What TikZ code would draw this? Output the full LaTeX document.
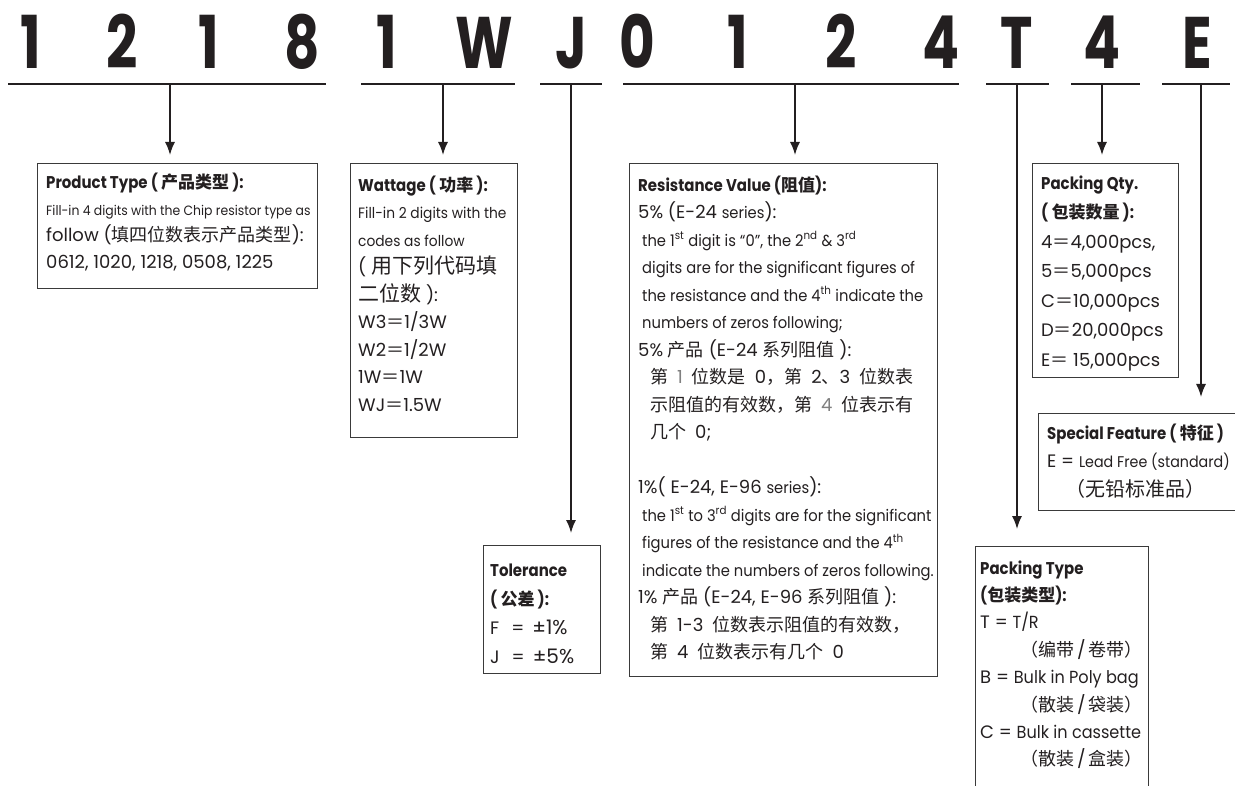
\documentclass[tikz,border=0pt]{standalone}
\usepackage{fontspec}
\setmainfont{Poppins}[Numbers=Monospaced]
\newfontfamily\cjk{Noto Sans CJK SC}
\newfontfamily\condfont{Poppins}[FakeStretch=0.92]
\newfontfamily\ttlfont{Poppins}[FakeStretch=0.88]
\newfontfamily\headfont{Poppins}[FakeStretch=0.75]
\usetikzlibrary{arrows.meta}

\definecolor{ink}{HTML}{231F20}
\definecolor{boxgray}{HTML}{3A3A3A}

\newcommand{\zh}[2][18]{{\cjk\fontsize{#1}{#1}\selectfont #2}}
\newcommand{\sm}[2][16]{{\condfont\fontsize{#1}{#1}\selectfont #2}}
\newcommand{\ttl}[1]{{\ttlfont\bfseries\fontsize{17}{18}\selectfont #1}}

\tikzset{
  digit/.style={font=\headfont\bfseries\fontsize{73}{73}\selectfont, anchor=base, inner sep=0pt, text=ink},
  uline/.style={line width=2.2pt, draw=ink},
  arr/.style={line width=1.5pt, draw=ink, -{Latex[length=13pt,width=10pt]}},
  box/.style={draw=boxgray, line width=1.2pt, anchor=north west, inner sep=0pt},
  txt/.style={anchor=north west, inner sep=0pt, align=left, text=ink, font=\fontsize{18}{#1}\selectfont},
}

\begin{document}
\begin{tikzpicture}[x=1pt, y=-1pt]
        \useasboundingbox (0,0) rectangle (1235,786);
        \clip (0,0) rectangle (1235,786);

        % part number
        \foreach \c/\x [count=\i] in {1/31, 2/122, 1/209, 8/302, 1/387, W/484, J/571, 0/637, 1/738, 2/841, 4/941, T/1017, 4/1102, E/1197}
            \node [digit] (d\i) at (\x,69) {\c};
        \foreach \a/\b in {8/326, 361/515, 540/602, 623/959, 986/1049, 1071/1140, 1162/1230}
            \draw [uline] (\a,84) -- (\b,84);

        \coordinate (tprod) at (170,84);
        \coordinate (twatt) at (443,84);
        \coordinate (ttol) at (571,84);
        \coordinate (tres) at (795,84);
        \coordinate (tpack) at (1017,84);
        \coordinate (tqty) at (1102,84);
        \coordinate (tspec) at (1201,84);

        % boxes
        \node [box, minimum width=280pt, minimum height=125pt] (prod) at (37,163) {};
        \node [box, minimum width=167pt, minimum height=274pt] (watt) at (350,163) {};
        \node [box, minimum width=308pt, minimum height=513pt] (res) at (629,163) {};
        \node [box, minimum width=117pt, minimum height=128pt] (tol) at (483,545) {};
        \node [box, minimum width=146pt, minimum height=214pt] (qty) at (1032,163) {};
        \node [box, minimum width=220pt, minimum height=97pt] (spec) at (1038,413) {};
        \node [box, minimum width=173pt, minimum height=260pt] (pack) at (975,546) {};

        \draw [arr, shorten >=8pt] (tprod) -- (tprod |- prod.north);
        \draw [arr, shorten >=8pt] (twatt) -- (twatt |- watt.north);
        \draw [arr, shorten >=12pt] (ttol) -- (ttol |- tol.north);
        \draw [arr, shorten >=8pt] (tres) -- (tres |- res.north);
        \draw [arr, shorten >=17pt] (tpack) -- (tpack |- pack.north);
        \draw [arr, shorten >=8pt] (tqty) -- (tqty |- qty.north);
        \draw [arr, shorten >=16pt] (tspec) -- (tspec |- spec.north);

        % texts
        \node [txt=26.5] (prodtxt) at (46,170) {\strut\ttl{Product Type ( \zh[17]{产品类型} ):}\\
            \sm[13.5]{Fill-in 4 digits with the Chip resistor type as}\\
            follow (\zh{填四位数表示产品类型}):\\
            0612, 1020, 1218, 0508, 1225};

        \node [txt=27.5] (watttxt) at (358,171.75) {\strut\ttl{Wattage ( \zh[17]{功率} ):}\\
            \sm[15]{Fill-in 2 digits with the}\\
            \sm[15]{codes as follow}\\
            ( \zh[21]{用下列代码填}\\
            \zh[21]{二位数} ):\\
            W3\zh{＝}1/3W\\
            W2\zh{＝}1/2W\\
            1W\zh{＝}1W\\
            WJ\zh{＝}1.5W};

        \node [txt=27.5] (restxt) at (638,171.75) {\strut\ttl{Resistance Value (\zh[17]{阻值}):}\\
            5\% (E-24 \sm{series}):\\
            \hspace{4pt}\sm{the 1\textsuperscript{st} digit is “0”, the 2\textsuperscript{nd} \& 3\textsuperscript{rd}}\\
            \hspace{4pt}\sm{digits are for the significant figures of}\\
            \hspace{4pt}\sm{the resistance and the 4\textsuperscript{th} indicate the}\\
            \hspace{4pt}\sm{numbers of zeros following;}\\
            5\% \zh{产品} (E-24 \zh{系列阻值} ):\\
            \hspace{12pt}\zh{第}\enspace{\color{gray}1}\enspace\zh{位数是}\enspace0\zh{，第}\enspace2\zh{、}3\enspace\zh{位数表}\\
            \hspace{12pt}\zh{示阻值的有效数，第}\enspace{\color{gray}4}\enspace\zh{位表示有}\\
            \hspace{12pt}\zh{几个}\enspace0;\\[27.5pt]
            1\%( E-24, E-96 \sm{series}):\\
            \hspace{4pt}\sm{the 1\textsuperscript{st} to 3\textsuperscript{rd} digits are for the significant}\\
            \hspace{4pt}\sm{figures of the resistance and the 4\textsuperscript{th}}\\
            \hspace{4pt}\sm{indicate the numbers of zeros following.}\\
            1\% \zh{产品} (E-24, E-96 \zh{系列阻值} ):\\
            \hspace{12pt}\zh{第}\enspace1-3\enspace\zh{位数表示阻值的有效数，}\\
            \hspace{12pt}\zh{第}\enspace4\enspace\zh{位数表示有几个}\enspace0};

        \node [txt=29] (toltxt) at (490,555.7) {\strut\ttl{Tolerance}\\
            \ttl{( \zh[17]{公差} ):}\\
            F\hspace{12pt}=\hspace{8pt}{\fontsize{20}{20}\selectfont ±1\%}\\
            J\hspace{12pt}=\hspace{8pt}{\fontsize{20}{20}\selectfont ±5\%}};

        \node [txt=29.5] (qtytxt) at (1041,168.4) {\strut\ttl{Packing Qty.}\\
            \ttl{( \zh[17]{包装数量} ):}\\
            4\zh{＝}4,000pcs,\\
            5\zh{＝}5,000pcs\\
            C\zh{＝}10,000pcs\\
            D\zh{＝}20,000pcs\\
            E\zh{＝} 15,000pcs};

        \node [txt=28.5] (spectxt) at (1047,419) {\strut\ttl{Special Feature ( \zh[17]{特征} )}\\
            E = \sm[15.5]{Lead Free (standard)}\\
            \hspace{18pt}\zh[20]{（无铅标准品）}};

        \node [txt=27.4] (packtxt) at (980,554.8) {\strut\ttl{Packing Type}\\
            \ttl{(\zh[17]{包装类型}):}\\
            T = \sm[17.5]{T/R}\\
            \hspace{40pt}\zh{（编带}\,/\,\zh{卷带）}\\
            B = \sm[17.5]{Bulk in Poly bag}\\
            \hspace{40pt}\zh{（散装}\,/\,\zh{袋装）}\\
            C = \sm[17.5]{Bulk in cassette}\\
            \hspace{40pt}\zh{（散装}\,/\,\zh{盒装）}};
\end{tikzpicture}
\end{document}
